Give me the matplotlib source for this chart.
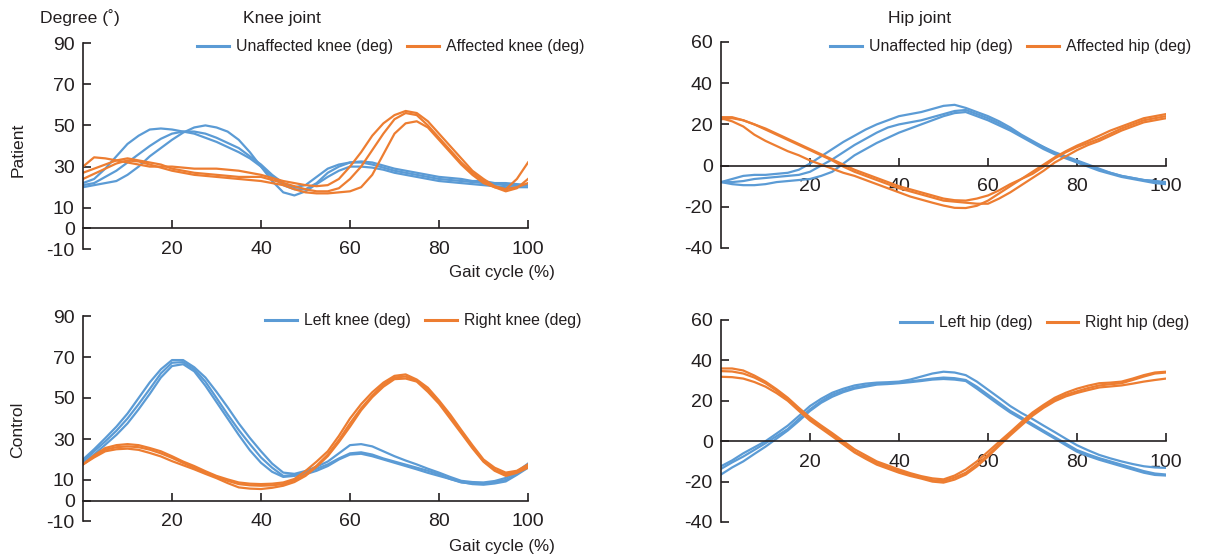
import numpy as np
import matplotlib.pyplot as plt

plt.rcParams['font.family'] = ['Liberation Sans', 'DejaVu Sans']
plt.rcParams['axes.unicode_minus'] = False

# gait cycle (%) sample points, every 2.5 %
gait_pct = np.arange(0, 100.1, 2.5)

# patient, knee joint (three trials each)
pat_unaff_knee = [
    [22, 24, 29, 35, 41, 45, 48, 48.5, 48, 47, 46, 44, 42, 39.5, 37, 34, 30, 25, 21, 19,
     19, 22, 27, 30, 32, 32.5, 32, 30.5, 29, 28, 27, 26, 25, 24.5, 24, 23, 23, 22, 22, 21.5, 21],
    [21, 22, 25, 28, 32, 36, 40, 43.5, 46, 47, 47, 46, 44, 41.5, 39, 35, 31, 26, 22, 20,
     21, 25, 29, 31, 32, 32, 31, 29.5, 28, 27, 26, 25, 24, 23.5, 23, 22.5, 22, 21.5, 21, 21, 21],
    [20, 21, 22, 23, 26, 30, 35, 39, 43, 46.5, 49, 50, 49, 47, 43, 37, 30, 23, 17.5, 16,
     18, 21.5, 25, 28, 30, 30, 29.5, 28.5, 27, 26, 25, 24, 23, 22.5, 22, 21.5, 21, 20.5, 20, 20, 20],
]
pat_aff_knee = [
    [30, 34.5, 34, 33, 32, 31, 30, 30, 30, 29.5, 29, 29, 29, 28.5, 28, 27, 26, 24.5, 23, 22,
     21, 20.5, 21, 24, 30, 37, 45, 51, 55, 57, 56, 52, 46, 40, 34, 28, 24, 20.5, 19, 24, 32],
    [27, 29, 31, 33, 34, 33, 32, 31, 29, 28, 27, 26.5, 26, 25.5, 25, 25, 25, 23.5, 22, 20.5,
     19, 18, 18, 19.5, 24, 30, 38, 46, 53, 56, 55, 50, 44, 38, 32, 27, 23, 20, 18, 19.5, 24],
    [24, 26.5, 29, 31.5, 33, 32.5, 31, 29.5, 28, 27, 26, 25.5, 25, 24.5, 24, 23.5, 23, 22, 21, 19,
     17.5, 17, 17, 17.5, 18, 20, 26, 36, 46, 51, 52, 49, 43, 37, 31, 26, 22, 20, 19, 20, 22],
]

# patient, hip joint
pat_unaff_hip = [
    [-8, -6.5, -5, -4.5, -4.5, -4, -3.5, -2, 1, 4.5, 8, 11.5, 14.5, 17.5, 20, 22, 24, 25, 26, 27.5,
     29, 29.5, 28, 26, 24, 21.5, 18.5, 15, 12, 9, 6.5, 4.5, 2.5, 0.5, -1.5, -3.5, -5, -6, -7, -7.5, -8],
    [-8, -8, -7.5, -6.5, -6, -5.5, -5, -4.5, -3, 0, 3, 6.5, 10, 13, 16, 18.5, 20, 21, 22, 23.5,
     25, 26.5, 27, 25, 23, 20.5, 17.5, 14.5, 11.5, 9, 6, 4, 2, 0, -2, -3.5, -5, -6, -7, -7.5, -8.5],
    [-8, -9, -9.5, -9.5, -9, -8, -7.5, -7, -6.5, -5, -3, 1, 5, 8, 11, 13.5, 16, 18, 20, 22,
     24, 25.5, 26, 24, 22, 19.5, 17, 14, 11, 8, 5.5, 3.5, 1.5, -0.5, -2.5, -4, -5.5, -6.5, -7.5, -8.5, -9],
]
pat_aff_hip = [
    [23, 21.5, 19, 15, 12, 9.5, 7, 5, 2.5, 0.5, -1.5, -3.5, -5, -7, -9, -11, -13, -15, -16.5, -18,
     -19.4, -20.5, -20.6, -19.5, -17, -13.5, -10, -6.5, -3, 0.5, 4, 7, 9.7, 12, 14.5, 17, 19, 21, 23, 24, 25],
    [23.5, 23.5, 22, 20, 18, 15.5, 13, 10.5, 8, 5.5, 3, 0.5, -2, -4, -6, -8, -10, -11.5, -13, -14.5,
     -16, -16.8, -17, -16, -14.5, -12, -9, -6.5, -4, -0.5, 3.5, 6.5, 9, 11, 13, 15.5, 18, 20, 22, 23, 24],
    [22.5, 23, 22, 20, 17.5, 15, 12.5, 10, 7.5, 5, 2.5, -0.5, -3, -5, -7, -9, -11, -12.5, -14, -15.5,
     -17, -17.5, -18, -18.5, -18.5, -16, -13, -9.5, -6, -2.5, 1.5, 4.5, 7.5, 10, 12, 14.5, 17, 19, 21, 22, 23],
]

# control, knee joint
ctl_left_knee = [
    [20, 25, 30.4, 36, 42.4, 50, 57.6, 64, 68.5, 68.5, 65, 60, 53, 45.5, 37.6, 30.5, 24, 18, 13.6, 13,
     14.4, 16.5, 19, 23, 27, 27.5, 26.4, 24, 21.6, 19.5, 17.6, 15.5, 13.6, 11.5, 9.6, 9, 8.8, 9.5, 11, 14, 18],
    [19, 24, 28.8, 34, 40, 47, 54.4, 62, 67.2, 67.5, 64, 58, 50, 42, 34.4, 27.5, 21, 16, 12, 12.5,
     13.6, 15.5, 17.6, 20.5, 23, 23.5, 22.4, 20.5, 19, 17.5, 16, 14.5, 12.8, 10.5, 8.8, 8.3, 8.3, 9, 10, 13, 16.8],
    [18, 22.5, 27.2, 32, 37.6, 44.5, 52, 60, 65.6, 66.5, 63, 56, 48, 40, 32, 24.5, 18.4, 14, 11.5, 12,
     12.8, 14.5, 16.8, 20, 22.4, 22.8, 21.6, 20, 18.4, 16.8, 15.2, 13.5, 12, 10.5, 9, 8, 7.7, 8.3, 9.3, 12.5, 16],
]
ctl_right_knee = [
    [17.6, 22, 25.6, 27, 27.5, 27, 25.6, 24, 21.6, 19, 16.8, 14.3, 12, 10.3, 8.8, 8.2, 8, 8.2, 8.8, 10.5,
     14.4, 19, 24, 31.5, 40, 47, 52.8, 57.5, 60.8, 61.5, 59, 55, 48.8, 42, 34.4, 27, 20, 16, 13.6, 14.5, 17.6],
    [17.6, 21.5, 24.8, 26, 26.4, 26, 24.8, 23, 20.8, 18.3, 16, 13.7, 11.5, 9.6, 8, 7.4, 7.2, 7.4, 8, 9.8,
     12.8, 17, 22.4, 29.5, 37.6, 45, 51.2, 56.5, 60, 60.5, 58.4, 54, 48, 41, 33.6, 26, 19.2, 15, 12.8, 14, 16.8],
    [17.6, 21, 24, 25, 25.3, 24.7, 23.2, 21.5, 19.2, 17.2, 15.2, 13, 10.9, 8.5, 6.4, 5.8, 5.6, 6.2, 7.2, 9,
     12, 16.5, 21.6, 28.5, 36, 44, 50.4, 55.5, 59.2, 59.5, 58, 53, 47.2, 40, 32.8, 25.5, 18.9, 14.5, 12, 13.5, 16],
]

# control, hip joint
ctl_left_hip = [
    [-12.4, -9.5, -6, -3, 0, 3.8, 7.7, 12.5, 17.4, 21, 24, 26, 27.6, 28.5, 29, 29.2, 29.5, 30.5, 32, 33.5,
     34.4, 34, 32.7, 29.5, 25.5, 21.5, 17.4, 14, 11, 7.7, 4.5, 1.2, -2, -4.5, -6.8, -8.5, -10, -11.3, -12.4, -13, -13.2],
    [-13.7, -10.5, -7.6, -4.3, -1, 2.5, 6, 11, 15.8, 19.8, 23, 25, 26.6, 27.5, 28.4, 28.6, 29, 29.6, 30.3, 31,
     31.5, 31.2, 30.3, 27, 23, 19, 15, 11.8, 8.5, 5.2, 2, -1.2, -4.4, -6.5, -8.4, -10, -11.6, -13.2, -14.8, -16, -16.5],
    [-16.5, -13, -10, -6.3, -2.7, 1.3, 5.3, 10, 15, 19, 22, 24.3, 26, 27, 28, 28.3, 28.7, 29.2, 29.8, 30.5,
     30.8, 30.5, 29.8, 26, 22, 18, 14.2, 11, 7.7, 4.5, 1.3, -2, -5.2, -7.3, -9.2, -10.8, -12.4, -14, -15.6, -16.7, -17],
]
ctl_right_hip = [
    [36, 36, 35, 32.5, 29.5, 25.7, 21.5, 16.5, 11.8, 7.8, 4, 0, -4, -7, -10, -12, -14, -15.8, -17.3, -18.4,
     -18.9, -17, -14, -10, -5.2, -0.3, 4.5, 9.5, 14.2, 18, 21.5, 24, 26, 27.5, 28.7, 29, 29.5, 31, 32.7, 34, 34.4],
    [34.7, 34.5, 33.5, 31.5, 28.7, 25, 20.6, 15.8, 11, 7.2, 3.4, -1, -5.2, -8, -10.8, -12.8, -14.8, -16.5, -18, -19.3,
     -19.7, -18, -15.6, -11.5, -6.8, -1.5, 3.7, 8.7, 13.4, 17.2, 20.6, 23, 24.7, 26.3, 27.6, 28.2, 28.7, 30.3, 32, 33.5, 34],
    [31.9, 31.7, 31, 29.3, 27, 23.8, 20, 15, 10.2, 6.3, 2.4, -1.6, -5.6, -8.7, -11.6, -13.6, -15.6, -17.2, -18.5, -20,
     -20.5, -19, -16.5, -12.5, -7.6, -2.3, 2.9, 7.8, 12.6, 16.5, 19.8, 22.2, 23.9, 25.3, 26.6, 27.1, 27.6, 28.5, 29.5, 30.3, 31],
]

knee_yticks = [-10, 0, 10, 30, 50, 70, 90]
hip_yticks = [-40, -20, 0, 20, 40, 60]
gait_xticks = [20, 40, 60, 80, 100]

BLUE = '#5b9bd5'
ORANGE = '#ed7d31'
DARK = '#231f20'
W, H = 1210, 560


def fx(px):
    return px / W


def fy(py):
    return 1 - py / H


fig = plt.figure(figsize=(12.1, 5.6), dpi=100)


def make_panel(rect, yticks, blue_sets, orange_sets, labels, leg_xy):
    ax = fig.add_axes(rect)
    for ys in blue_sets:
        ax.plot(gait_pct, ys, color=BLUE, lw=1.6, solid_joinstyle='round')
    for ys in orange_sets:
        ax.plot(gait_pct, ys, color=ORANGE, lw=1.6, solid_joinstyle='round')
    ax.set_xlim(0, 100)
    ax.set_ylim(yticks[0], yticks[-1])
    ax.set_xticks(gait_xticks)
    ax.set_yticks(yticks)
    for s in ['top', 'right']:
        ax.spines[s].set_visible(False)
    ax.spines['bottom'].set_position(('data', 0))
    for s in ['left', 'bottom']:
        ax.spines[s].set_color(DARK)
        ax.spines[s].set_linewidth(1.2)
    ax.tick_params(axis='x', direction='in', length=6, width=1.2, color=DARK,
                   labelsize=14, labelcolor=DARK, pad=9)
    ax.tick_params(axis='y', direction='in', length=6, width=1.2, color=DARK,
                   labelsize=14, labelcolor=DARK, pad=6)
    ax.patch.set_alpha(0)
    handles = [plt.Line2D([], [], color=BLUE, lw=2.2),
               plt.Line2D([], [], color=ORANGE, lw=2.2)]
    ax.legend(handles, labels, loc='center left', ncol=2, frameon=False,
              bbox_to_anchor=(fx(leg_xy[0]), fy(leg_xy[1])),
              bbox_transform=fig.transFigure, fontsize=11.4,
              handlelength=2.0, handletextpad=0.45, columnspacing=0.9,
              borderpad=0, borderaxespad=0, labelcolor=DARK)
    return ax


make_panel([fx(83), fy(249), fx(528) - fx(83), fy(43) - fy(249)], knee_yticks,
           pat_unaff_knee, pat_aff_knee,
           ['Unaffected knee (deg)', 'Affected knee (deg)'], (197, 47))
make_panel([fx(721), fy(248), fx(1166) - fx(721), fy(42) - fy(248)], hip_yticks,
           pat_unaff_hip, pat_aff_hip,
           ['Unaffected hip (deg)', 'Affected hip (deg)'], (830, 47))
make_panel([fx(83), fy(521), fx(528) - fx(83), fy(316) - fy(521)], knee_yticks,
           ctl_left_knee, ctl_right_knee,
           ['Left knee (deg)', 'Right knee (deg)'], (265, 321))
make_panel([fx(721), fy(522), fx(1166) - fx(721), fy(320) - fy(522)], hip_yticks,
           ctl_left_hip, ctl_right_hip,
           ['Left hip (deg)', 'Right hip (deg)'], (900, 323))

fig.text(fx(40), fy(18), 'Degree (˚)', fontsize=12.6, color=DARK, va='center', ha='left')
fig.text(fx(282), fy(18), 'Knee joint', fontsize=12.6, color=DARK, va='center', ha='center')
fig.text(fx(920), fy(18), 'Hip joint', fontsize=12.6, color=DARK, va='center', ha='center')
fig.text(fx(18), fy(150), 'Patient', fontsize=12.6, color=DARK, va='center', ha='center', rotation=90)
fig.text(fx(18), fy(430), 'Control', fontsize=12.6, color=DARK, va='center', ha='center', rotation=90)
fig.text(fx(555), fy(272), 'Gait cycle (%)', fontsize=12.2, color=DARK, va='center', ha='right')
fig.text(fx(555), fy(546), 'Gait cycle (%)', fontsize=12.2, color=DARK, va='center', ha='right')

fig.savefig('out.png', dpi=100)
